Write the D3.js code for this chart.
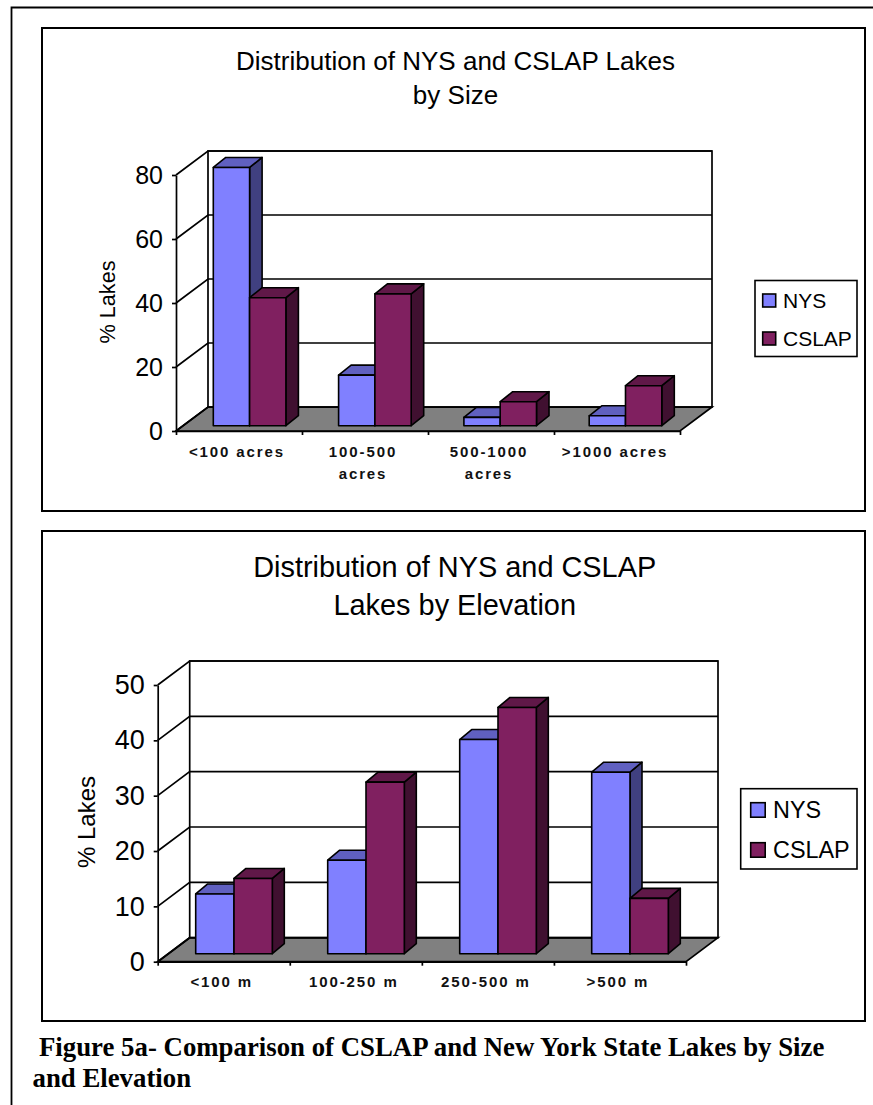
<!DOCTYPE html>
<html>
<head>
<meta charset="utf-8">
<script src="https://d3js.org/d3.v7.min.js"></script>
<style>
    html, body { margin: 0; padding: 0; background: #fff; }
    svg { display: block; }
    text { font-family: "Liberation Sans", Arial, sans-serif; fill: #000; }
    .axis path, .axis line { stroke: #000; stroke-width: 1.7; }
    .axis text { font-family: "Liberation Sans", Arial, sans-serif; fill: #000; }
    .cat-label { font-weight: bold; font-size: 15px; letter-spacing: 1.9px; text-anchor: middle; fill: #111; }
    .caption { font-family: "Liberation Serif", "Times New Roman", serif; font-weight: bold; font-size: 26.8px; }
</style>
</head>
<body>
<div id="chart"></div>
<script>
// Values
const seriesNames = ["NYS", "CSLAP"];

const sizeCategories = [["<100 acres"], ["100-500", "acres"], ["500-1000", "acres"], [">1000 acres"]];
const sizeNys = [80.7, 15.8, 2.6, 3.1];
const sizeCslap = [40, 41.2, 7.5, 12.5];
const sizeTicks = [0, 20, 40, 60, 80];

const elevCategories = [["<100 m"], ["100-250 m"], ["250-500 m"], [">500 m"]];
const elevNys = [10.8, 16.9, 38.7, 32.8];
const elevCslap = [13.6, 31, 44.5, 10];
const elevTicks = [0, 10, 20, 30, 40, 50];

const caption = ["Figure 5a- Comparison of CSLAP and New York State Lakes by Size", "and Elevation"];

// Colours: front, top and side face of each series
const faces = {
    NYS: { front: "#8080ff", top: "#6060c0", side: "#404080" },
    CSLAP: { front: "#802060", top: "#601848", side: "#401030" }
};

const svg = d3.select("#chart")
    .append("svg")
    .attr("width", 873)
    .attr("height", 1105);

// Page border runs off the right and bottom of the photo
svg.append("path")
    .attr("d", "M11.5,1105V7.5H873")
    .attr("fill", "none")
    .attr("stroke", "#000")
    .attr("stroke-width", 1.8);

function drawChart(c) {
    // Chart frame
    svg.append("rect")
        .attr("x", c.box[0]).attr("y", c.box[1])
        .attr("width", c.box[2] - c.box[0]).attr("height", c.box[3] - c.box[1])
        .attr("fill", "#fff").attr("stroke", "#000").attr("stroke-width", 2);

    // Title
    c.title.forEach((t, i) => {
        svg.append("text")
            .attr("x", c.titleX).attr("y", c.titleY[i])
            .attr("text-anchor", "middle")
            .attr("font-size", c.titleSize)
            .text(t);
    });

    // Scales for the front plane of the box
    const n = c.categories.length;
    const y = d3.scaleLinear().domain([0, c.yMax]).range([c.y0, c.yTop]);
    const x = d3.scaleBand().domain(d3.range(n)).range([c.x0, c.x1]);
    const xEdge = d3.scaleLinear().domain([0, n]).range([c.x0, c.x1]);
    // Bars sit further back on the floor, so they get their own scale
    const xBars = d3.scaleBand().domain(d3.range(n)).range([c.barStart, c.barStart + n * c.barStep]);
    const xSeries = d3.scaleBand().domain(seriesNames).range([0, c.barW * 2]);

    const g = svg.append("g");
    const line = d3.line();

    // Floor
    g.append("path")
        .attr("d", line([[c.x0, c.y0], [c.x0 + c.depth[0], c.y0 - c.depth[1]],
            [c.x1 + c.depth[0], c.y0 - c.depth[1]], [c.x1, c.y0]]) + "Z")
        .attr("fill", "#808080").attr("stroke", "#000").attr("stroke-width", 1.7);

    // Back wall
    g.append("rect")
        .attr("x", c.x0 + c.depth[0]).attr("y", y(c.yMax) - c.depth[1])
        .attr("width", c.x1 - c.x0).attr("height", y(0) - y(c.yMax))
        .attr("fill", "#fff").attr("stroke", "#000").attr("stroke-width", 1.7);

    // Gridlines on the back wall and their run down the left wall
    c.ticks.forEach(t => {
        g.append("path")
            .attr("d", line([[c.x0, y(t)], [c.x0 + c.depth[0], y(t) - c.depth[1]],
                [c.x1 + c.depth[0], y(t) - c.depth[1]]]))
            .attr("fill", "none").attr("stroke", "#000").attr("stroke-width", 1.7);
    });

    // Axes
    svg.append("g")
        .attr("class", "axis")
        .attr("transform", `translate(${c.x0},0)`)
        .call(d3.axisLeft(y).tickValues(c.ticks).tickSize(4).tickPadding(9).tickSizeOuter(0))
        .attr("font-size", c.tickSize);

    svg.append("g")
        .attr("class", "axis")
        .attr("transform", `translate(0,${c.y0})`)
        .call(d3.axisBottom(xEdge).ticks(n).tickSize(4).tickSizeOuter(0).tickFormat(""));

    // Bars
    c.categories.forEach((cat, i) => {
        [c.nys[i], c.cslap[i]].forEach((v, j) => {
            const name = seriesNames[j];
            const left = xBars(i) + xSeries(name);
            const right = left + xSeries.bandwidth();
            const top = y(v) - c.barInset;
            const bottom = y(0) - c.barInset;
            const dx = c.barDepth[0], dy = c.barDepth[1];
            const bar = g.append("g")
                .attr("stroke", "#000").attr("stroke-width", 1.6).attr("stroke-linejoin", "round");
            bar.append("path")
                .attr("d", line([[right, top], [right + dx, top - dy], [right + dx, bottom - dy], [right, bottom]]) + "Z")
                .attr("fill", faces[name].side);
            bar.append("path")
                .attr("d", line([[left, top], [left + dx, top - dy], [right + dx, top - dy], [right, top]]) + "Z")
                .attr("fill", faces[name].top);
            bar.append("rect")
                .attr("x", left).attr("y", top)
                .attr("width", right - left).attr("height", bottom - top)
                .attr("fill", faces[name].front);
        });
    });

    // Category labels
    c.categories.forEach((lines, i) => {
        lines.forEach((t, k) => {
            svg.append("text")
                .attr("class", "cat-label")
                .attr("x", x(i) + x.bandwidth() / 2 - 2)
                .attr("y", c.labelY[k])
                .text(t);
        });
    });

    // Y axis title
    svg.append("text")
        .attr("transform", `translate(${c.yTitle[0]},${c.yTitle[1]}) rotate(-90)`)
        .attr("text-anchor", "middle")
        .attr("font-size", c.yTitleSize)
        .text("% Lakes");

    // Legend
    const lg = c.legend;
    svg.append("rect")
        .attr("x", lg.box[0]).attr("y", lg.box[1])
        .attr("width", lg.box[2] - lg.box[0]).attr("height", lg.box[3] - lg.box[1])
        .attr("fill", "#fff").attr("stroke", "#000").attr("stroke-width", 1.6);
    seriesNames.forEach((name, i) => {
        svg.append("rect")
            .attr("x", lg.swatchX).attr("y", lg.swatchY[i])
            .attr("width", lg.swatch).attr("height", lg.swatch)
            .attr("fill", faces[name].front).attr("stroke", "#000").attr("stroke-width", 1.6);
        svg.append("text")
            .attr("x", lg.textX).attr("y", lg.swatchY[i] + lg.swatch / 2)
            .attr("dy", "0.36em")
            .attr("font-size", lg.size)
            .text(name);
    });
}

drawChart({
    box: [42, 28, 865, 511],
    title: ["Distribution of NYS and CSLAP Lakes", "by Size"],
    titleX: 455.5, titleY: [70, 104], titleSize: 26,
    categories: sizeCategories, nys: sizeNys, cslap: sizeCslap,
    ticks: sizeTicks, yMax: 80, tickSize: 25,
    x0: 176, x1: 680, y0: 431, yTop: 175, depth: [32, 24],
    barW: 36.3, barStart: 213.3, barStep: 125.3, barInset: 5.3, barDepth: [12.5, 10],
    labelY: [456.5, 478.5],
    yTitle: [115, 302], yTitleSize: 21.7,
    legend: { box: [755, 280.5, 857, 356.5], swatchX: 762.7, swatchY: [294, 332], swatch: 13, textX: 783, size: 21 }
});

drawChart({
    box: [42, 531, 865, 1021],
    title: ["Distribution of NYS and CSLAP", "Lakes by Elevation"],
    titleX: 454.7, titleY: [576.7, 615.3], titleSize: 28.9,
    categories: elevCategories, nys: elevNys, cslap: elevCslap,
    ticks: elevTicks, yMax: 50, tickSize: 27,
    x0: 157.7, x1: 686, y0: 961.7, yTop: 685, depth: [32, 24],
    barW: 38.3, barStart: 195.7, barStep: 132, barInset: 8, barDepth: [12, 10],
    labelY: [986.5],
    yTitle: [95, 822], yTitleSize: 24,
    legend: { box: [740.7, 788.7, 857, 869], swatchX: 750.7, swatchY: [802.7, 842.7], swatch: 14.5, textX: 773, size: 23.4 }
});

// Caption under the charts
svg.append("text").attr("class", "caption").attr("x", 39).attr("y", 1055.7).text(caption[0]);
svg.append("text").attr("class", "caption").attr("x", 32.5).attr("y", 1086.7).text(caption[1]);
</script>
</body>
</html>
